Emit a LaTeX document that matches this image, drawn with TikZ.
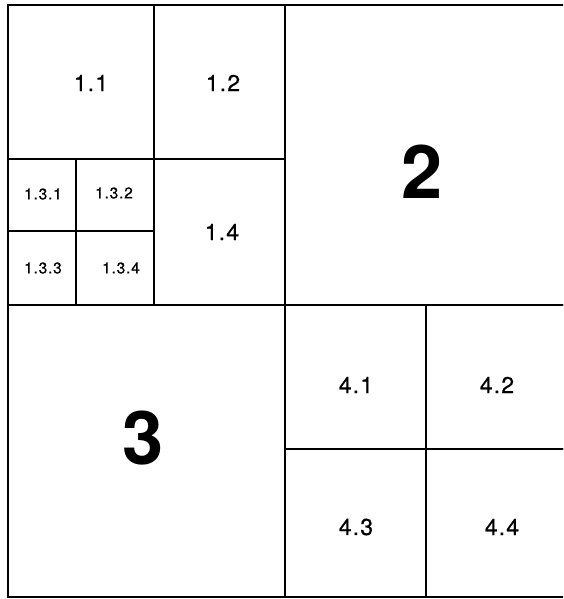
\documentclass[tikz,border=0pt]{standalone}
\usepackage{fontspec}
\setmainfont{TeX Gyre Heros}
\newfontfamily\cellfont[LetterSpace=5, FakeBold=0.6]{TeX Gyre Heros}
\usetikzlibrary{positioning}

\begin{document}
\begin{tikzpicture}[
  x=1pt, y=-1pt,
  cell/.style={draw=black, line width=1.4pt},
  lbl/.style={font=\cellfont\fontsize{23}{23}\selectfont, inner sep=0pt},
  sublbl/.style={font=\cellfont\fontsize{15.5}{16}\selectfont, inner sep=0pt},
  big/.style={font=\fontsize{74}{74}\selectfont\bfseries, inner sep=0pt}
]

  % ========== FRAME ==========
  \clip (0, 0) rectangle (563, 599);
  \useasboundingbox (0, 0) rectangle (563, 599);

  % ========== QUADRANT 1 ==========
  \draw[cell] (8, 5) rectangle (154, 159);
  \draw[cell] (154, 5) rectangle (285, 159);
  \draw[cell] (8, 159) rectangle (76, 231);
  \draw[cell] (76, 159) rectangle (154, 231);
  \draw[cell] (8, 231) rectangle (76, 305);
  \draw[cell] (76, 231) rectangle (154, 305);
  \draw[cell] (154, 159) rectangle (285, 305);

  % ========== QUADRANTS 2 AND 3 ==========
  \draw[cell] (285, 5) rectangle (570, 305);
  \draw[cell] (8, 305) rectangle (285, 597);

  % ========== QUADRANT 4 ==========
  \draw[cell] (285, 305) rectangle (426, 449);
  \draw[cell] (426, 305) rectangle (570, 449);
  \draw[cell] (285, 449) rectangle (426, 597);
  \draw[cell] (426, 449) rectangle (570, 597);

  % ========== LABELS ==========
  \node[lbl] (q11) at (91, 83) {1.1};
  \node[lbl] (q12) at (223, 83) {1.2};
  \node[sublbl] (q131) at (43, 194) {1.3.1};
  \node[sublbl] (q132) at (114, 193) {1.3.2};
  \node[sublbl] (q133) at (43, 268) {1.3.3};
  \node[sublbl] (q134) at (121, 268) {1.3.4};
  \node[lbl] (q14) at (222, 232) {1.4};

  \node[big] (q2) at (422, 172) {2};
  \node[big] (q3) at (143, 438) {3};

  \node[lbl] (q41) at (356, 385) {4.1};
  \node[lbl] (q42) at (497, 385) {4.2};
  \node[lbl] (q43) at (356, 527) {4.3};
  \node[lbl] (q44) at (502, 527) {4.4};

\end{tikzpicture}
\end{document}
